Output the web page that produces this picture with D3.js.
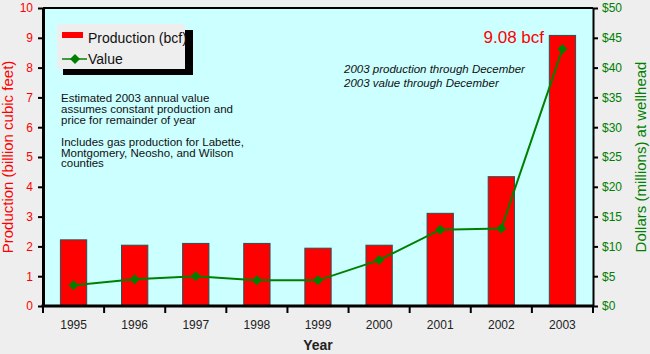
<!DOCTYPE html>
<html>
<head>
<meta charset="utf-8">
<script src="https://cdn.jsdelivr.net/npm/d3@7"></script>
<style>
  body { margin: 0; background: #eeeeee; }
  svg { display: block; font-family: Arial, "Liberation Sans", sans-serif; }
</style>
</head>
<body>
<div id="chart"></div>
<script>
// Data
const years = ["1995", "1996", "1997", "1998", "1999", "2000", "2001", "2002", "2003"];
const production = [2.22, 2.04, 2.10, 2.10, 1.94, 2.04, 3.11, 4.34, 9.08];
const value = [3.5, 4.5, 5.0, 4.3, 4.3, 7.7, 12.8, 13.0, 43.1];
const leftTicks = [0, 1, 2, 3, 4, 5, 6, 7, 8, 9, 10];
const rightTicks = [0, 5, 10, 15, 20, 25, 30, 35, 40, 45, 50];

const width = 650, height = 354;
const margin = {top: 8, right: 57, bottom: 48, left: 43};
const innerW = width - margin.left - margin.right;
const innerH = height - margin.top - margin.bottom;

const svg = d3.select("#chart")
  .append("svg")
    .attr("width", width)
    .attr("height", height);

svg.append("rect")
   .attr("width", width).attr("height", height)
   .attr("fill", "#eeeeee");

const g = svg.append("g")
  .attr("transform", `translate(${margin.left},${margin.top})`);

// plot background
g.append("rect")
  .attr("width", innerW).attr("height", innerH)
  .attr("fill", "#ccffff");

// Scales
const x = d3.scaleBand().domain(years).range([0, innerW]).paddingInner(0.57).paddingOuter(0.285);
const band = d3.scaleBand().domain(years).range([0, innerW]);
const yL = d3.scaleLinear().domain([0, 10]).range([innerH, 0]);
const yR = d3.scaleLinear().domain([0, 50]).range([innerH, 0]);

// Bars
g.append("g")
  .selectAll("rect")
  .data(years)
  .join("rect")
    .attr("x", d => x(d))
    .attr("y", (d, i) => yL(production[i]))
    .attr("width", x.bandwidth())
    .attr("height", (d, i) => yL(0) - yL(production[i]))
    .attr("fill", "#ff0000")
    .attr("stroke", "#2f4f4f")
    .attr("stroke-width", 1);

// Value line
const line = d3.line()
  .x((d, i) => band(years[i]) + band.bandwidth() / 2)
  .y(d => yR(d));

g.append("path")
  .datum(value)
  .attr("d", line)
  .attr("fill", "none")
  .attr("stroke", "#008000")
  .attr("stroke-width", 2);

// diamond = rotated square
const diamond = d3.symbol().type(d3.symbolSquare).size(50);
g.append("g")
  .selectAll("path")
  .data(value)
  .join("path")
    .attr("d", diamond)
    .attr("transform", (d, i) => `translate(${band(years[i]) + band.bandwidth() / 2},${yR(d)}) rotate(45)`)
    .attr("fill", "#008000");

// Top border
g.append("line")
  .attr("x1", 0).attr("x2", innerW).attr("y1", 0).attr("y2", 0)
  .attr("stroke", "#000").attr("stroke-width", 2);

// Left axis
const axL = g.append("g")
  .call(d3.axisLeft(yL).tickValues(leftTicks).tickSize(5).tickSizeOuter(0).tickPadding(5));
axL.select(".domain").attr("stroke-width", 3);
axL.selectAll(".tick line").attr("stroke-width", 2);
axL.selectAll("text").attr("fill", "#ff0000").attr("font-size", 12);

// Right axis
const axR = g.append("g")
  .attr("transform", `translate(${innerW},0)`)
  .call(d3.axisRight(yR).tickValues(rightTicks).tickFormat(d => "$" + d).tickSize(5).tickSizeOuter(0).tickPadding(4));
axR.select(".domain").attr("stroke-width", 2);
axR.selectAll(".tick line").attr("stroke-width", 2);
axR.selectAll("text").attr("fill", "#008000").attr("font-size", 12);

// Bottom axis: ticks at category boundaries
const axB = g.append("g")
  .attr("transform", `translate(0,${innerH})`);
axB.append("line")
  .attr("x1", -1.5).attr("x2", innerW + 1).attr("stroke", "#000").attr("stroke-width", 3);
axB.selectAll("line.tk")
  .data(years.concat(["end"]))
  .join("line")
    .attr("class", "tk")
    .attr("x1", (d, i) => i * band.step()).attr("x2", (d, i) => i * band.step())
    .attr("y1", 0).attr("y2", 7)
    .attr("stroke", "#000").attr("stroke-width", 2);
axB.selectAll("text")
  .data(years)
  .join("text")
    .attr("x", d => band(d) + band.bandwidth() / 2)
    .attr("y", 22.5)
    .attr("text-anchor", "middle")
    .attr("font-size", 12)
    .attr("fill", "#222")
    .text(d => d);

// Axis titles
svg.append("text")
  .attr("transform", `translate(13,${margin.top + innerH / 2}) rotate(-90)`)
  .attr("text-anchor", "middle")
  .attr("font-size", 15)
  .attr("fill", "#ff0000")
  .text("Production (billion cubic feet)");

svg.append("text")
  .attr("transform", `translate(646,${margin.top + innerH / 2}) rotate(-90)`)
  .attr("text-anchor", "middle")
  .attr("font-size", 15)
  .attr("fill", "#008000")
  .text("Dollars (millions) at wellhead");

svg.append("text")
  .attr("x", margin.left + innerW / 2).attr("y", 350)
  .attr("text-anchor", "middle")
  .attr("font-size", 14)
  .attr("font-weight", "bold")
  .attr("fill", "#222")
  .text("Year");

// Legend
const legend = svg.append("g");
legend.append("rect")
  .attr("x", 63).attr("y", 30).attr("width", 130).attr("height", 45)
  .attr("fill", "#000");
legend.append("rect")
  .attr("x", 57).attr("y", 24).attr("width", 128).attr("height", 45)
  .attr("fill", "#eeeeee");
legend.append("rect")
  .attr("x", 62).attr("y", 32).attr("width", 21).attr("height", 6)
  .attr("fill", "#ff0000");
legend.append("text")
  .attr("x", 88).attr("y", 43).attr("font-size", 14).attr("fill", "#111")
  .text("Production (bcf)");
legend.append("line")
  .attr("x1", 62).attr("x2", 87).attr("y1", 59).attr("y2", 59)
  .attr("stroke", "#008000").attr("stroke-width", 1.5);
legend.append("path")
  .attr("d", diamond)
  .attr("transform", "translate(75,59) rotate(45)")
  .attr("fill", "#008000");
legend.append("text")
  .attr("x", 88).attr("y", 64).attr("font-size", 14).attr("fill", "#111")
  .text("Value");

// Notes
const notes1 = ["Estimated 2003 annual value", "assumes constant production and", "price for remainder of year"];
const notes2 = ["Includes gas production for Labette,", "Montgomery, Neosho, and Wilson", "counties"];
svg.append("g").selectAll("text")
  .data(notes1)
  .join("text")
    .attr("x", 61).attr("y", (d, i) => 102 + i * 11)
    .attr("font-size", 11.5).attr("fill", "#111")
    .text(d => d);
svg.append("g").selectAll("text")
  .data(notes2)
  .join("text")
    .attr("x", 61).attr("y", (d, i) => 146 + i * 10.7)
    .attr("font-size", 11.5).attr("fill", "#111")
    .text(d => d);

const notes3 = ["2003 production through December", "2003 value through December"];
svg.append("g").selectAll("text")
  .data(notes3)
  .join("text")
    .attr("x", 344).attr("y", (d, i) => 73 + i * 14)
    .attr("font-size", 11.5).attr("font-style", "italic").attr("fill", "#111")
    .text(d => d);

svg.append("text")
  .attr("x", 544).attr("y", 43)
  .attr("text-anchor", "end")
  .attr("font-size", 17)
  .attr("fill", "#ff0000")
  .text("9.08 bcf");
</script>
</body>
</html>
